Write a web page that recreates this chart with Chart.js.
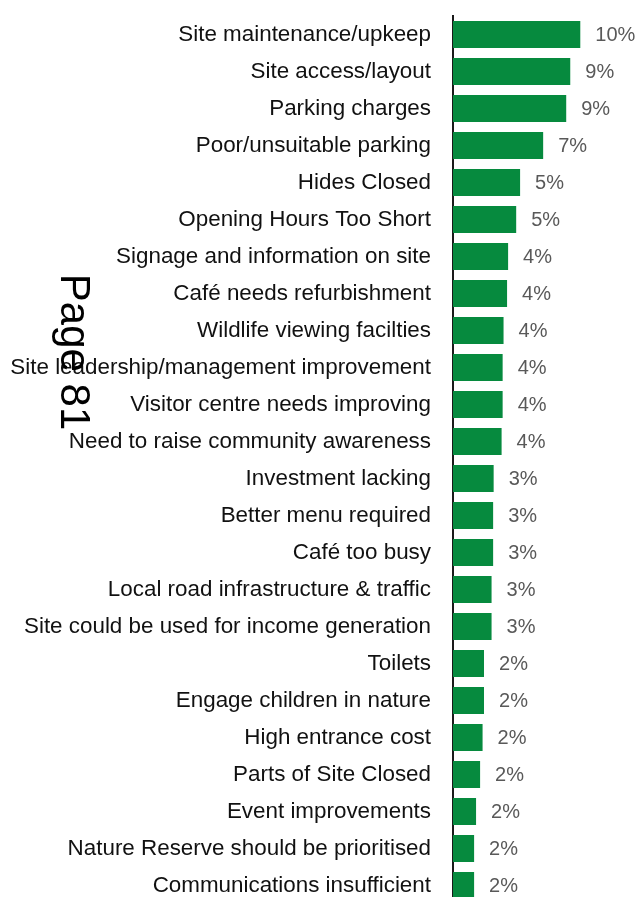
<!DOCTYPE html>
<html lang="en">
<head>
    <meta charset="UTF-8">
    <title>Improvement themes</title>
    <script src="https://cdn.jsdelivr.net/npm/chart.js"></script>
    <style>
        html, body { margin: 0; padding: 0; background: #fff; overflow: hidden; }
        canvas { display: block; }
    </style>
</head>
<body>
    <canvas id="themesChart" width="638" height="906"></canvas>

    <script>
        // share of comments per theme (%)
        const themes = [
            'Site maintenance/upkeep',
            'Site access/layout',
            'Parking charges',
            'Poor/unsuitable parking',
            'Hides Closed',
            'Opening Hours Too Short',
            'Signage and information on site',
            'Café needs refurbishment',
            'Wildlife viewing facilties',
            'Site leadership/management improvement',
            'Visitor centre needs improving',
            'Need to raise community awareness',
            'Investment lacking',
            'Better menu required',
            'Café too busy',
            'Local road infrastructure & traffic',
            'Site could be used for income generation',
            'Toilets',
            'Engage children in nature',
            'High entrance cost',
            'Parts of Site Closed',
            'Event improvements',
            'Nature Reserve should be prioritised',
            'Communications insufficient'
        ];
        const shares = [9.77, 9.0, 8.69, 6.92, 5.15, 4.85, 4.23, 4.15, 3.88, 3.81, 3.81, 3.73,
                        3.12, 3.08, 3.08, 2.96, 2.96, 2.38, 2.38, 2.27, 2.08, 1.77, 1.62, 1.62];
        const pageMark = 'Page 81';

        const FONT = '"Liberation Sans", Arial, Helvetica, sans-serif';

        // percentage next to each bar
        const valueLabels = {
            id: 'valueLabels',
            afterDatasetsDraw(chart) {
                const ctx = chart.ctx;
                const meta = chart.getDatasetMeta(0);
                ctx.save();
                ctx.font = '20px ' + FONT;
                ctx.fillStyle = '#595959';
                ctx.textAlign = 'left';
                ctx.textBaseline = 'middle';
                meta.data.forEach((bar, i) => {
                    ctx.fillText(Math.round(shares[i]) + '%', bar.x + 15, bar.y + 1);
                });
                ctx.restore();
            }
        };

        // rotated page number stamped over the labels
        const pageStamp = {
            id: 'pageStamp',
            afterDraw(chart) {
                const ctx = chart.ctx;
                ctx.save();
                ctx.translate(61, 352);
                ctx.rotate(Math.PI / 2);
                ctx.font = '42px ' + FONT;
                ctx.fillStyle = '#000';
                ctx.textAlign = 'center';
                ctx.textBaseline = 'alphabetic';
                ctx.fillText(pageMark, 0, 0);
                ctx.restore();
            }
        };

        const chart = new Chart(document.getElementById('themesChart'), {
            type: 'bar',
            data: {
                labels: themes,
                datasets: [{
                    data: shares,
                    backgroundColor: '#068a3e',
                    borderWidth: 0,
                    categoryPercentage: 1,
                    barPercentage: 0.73
                }]
            },
            plugins: [valueLabels, pageStamp],
            options: {
                indexAxis: 'y',
                responsive: false,
                animation: false,
                layout: { padding: { top: 16, bottom: 2, left: 0, right: 0 } },
                plugins: {
                    legend: { display: false },
                    tooltip: { enabled: false }
                },
                scales: {
                    x: {
                        display: false,
                        min: 0,
                        max: 14.2
                    },
                    y: {
                        z: 1,
                        afterFit(scale) {
                            scale.width = 453;
                            scale.paddingTop = 0;
                            scale.paddingBottom = 0;
                        },
                        grid: { display: false, drawTicks: false },
                        border: { display: true, color: '#1a1a1a', width: 2 },
                        ticks: {
                            autoSkip: false,
                            padding: 22,
                            color: '#111',
                            font: { family: FONT, size: 22.4 }
                        }
                    }
                }
            }
        });
        console.log(JSON.stringify(chart.chartArea));
    </script>
</body>
</html>
